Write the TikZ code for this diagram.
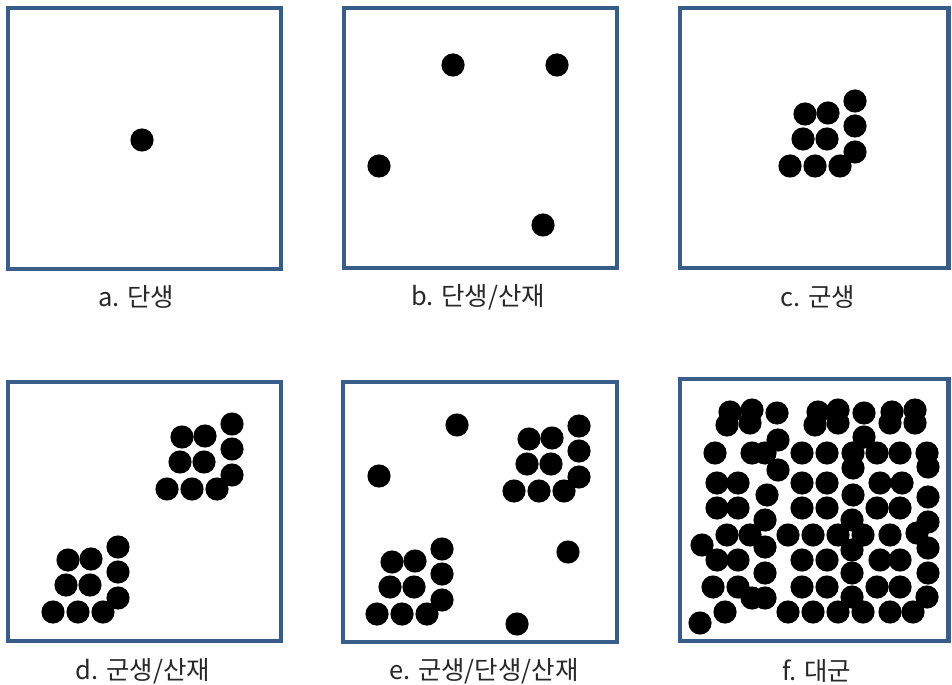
\documentclass[tikz,border=0pt]{standalone}
\usepackage{fontspec}
\usepackage{tikz}
\usepackage{xcolor}
\newfontfamily\krfont{Noto Sans CJK KR}
\definecolor{boxblue}{RGB}{56,93,138}
\definecolor{tagtext}{RGB}{40,40,40}
\newcommand\dotrad{0.232cm}
% one cluster of ten dots, anchored at its lower left dot
\newcommand\drawclump[2]{%
  \foreach \u/\v in {0/0,25/0,50/0,13/-27,37/-27,15/-52,38/-53,65/-65,65/-40,65/-14}
    \fill[spot] ({#1+\u},{#2+\v}) circle[radius=\dotrad];}

\begin{document}
\begin{tikzpicture}[x=0.02cm,y=-0.02cm]
  \tikzset{
    panel/.style={draw=boxblue,line width=2.3pt},
    spot/.style={fill=black},
    tag/.style={font=\krfont\fontsize{14.5}{17}\selectfont,text=tagtext,inner sep=0pt}
  }
  \useasboundingbox (0,0) rectangle (952,685);

  % frames
  \draw[panel] (8,8) rectangle (281,269);
  \draw[panel] (344,8) rectangle (617,268);
  \draw[panel] (680,8) rectangle (948.5,268);
  \draw[panel] (8,382) rectangle (281,641);
  \draw[panel] (343,382) rectangle (617,642);
  \draw[panel] (680,379) rectangle (948.5,641);

  % a
  \fill[spot] (142,140) circle[radius=\dotrad];
  % b
  \foreach \x/\y in {453/65,557/65,379/166,543/225}
    \fill[spot] (\x,\y) circle[radius=\dotrad];
  % c
  \drawclump{790}{166}
  % d
  \drawclump{167}{489}
  \drawclump{53}{612}
  % e
  \drawclump{514}{491}
  \drawclump{377}{614}
  \foreach \x/\y in {457/425,379/476,568/552,517/624}
    \fill[spot] (\x,\y) circle[radius=\dotrad];
  % f
  \foreach \x/\y in {730/412,752/410,777/413,818/412,838/410,864/413,892/412,915/410,
      727/425,750/423,815/425,838/423,890/423,915/423,778/440,864/437,
      715/453,752/453,765/453,802/453,827/453,853/453,877/453,900/453,927/453,
      778/470,853/468,928/467,
      717/483,738/483,802/483,827/483,880/483,902/483,
      767/495,853/495,928/497,
      717/508,738/508,802/508,827/508,877/508,900/508,
      765/520,852/520,928/522,
      727/535,750/535,788/535,813/535,838/535,863/535,890/535,917/533,
      702/545,765/547,928/548,852/550,
      717/560,738/560,802/560,827/560,880/560,900/560,
      765/573,852/573,928/573,
      713/587,738/587,802/587,827/587,877/587,900/587,
      752/598,765/598,852/597,927/597,
      725/612,788/612,813/612,838/612,863/612,890/612,913/612,
      700/623}
    \fill[spot] (\x,\y) circle[radius=\dotrad];

  % captions
  \node[tag] (capa) at (136,297) {a. 단생};
  \node[tag] (capb) at (478,297) {b. 단생/산재};
  \node[tag] (capc) at (818,297) {c. 군생};
  \node[tag] (capd) at (143,671) {d. 군생/산재};
  \node[tag] (cape) at (484,671) {e. 군생/단생/산재};
  \node[tag] (capf) at (817,671) {f. 대군};
\end{tikzpicture}
\end{document}
